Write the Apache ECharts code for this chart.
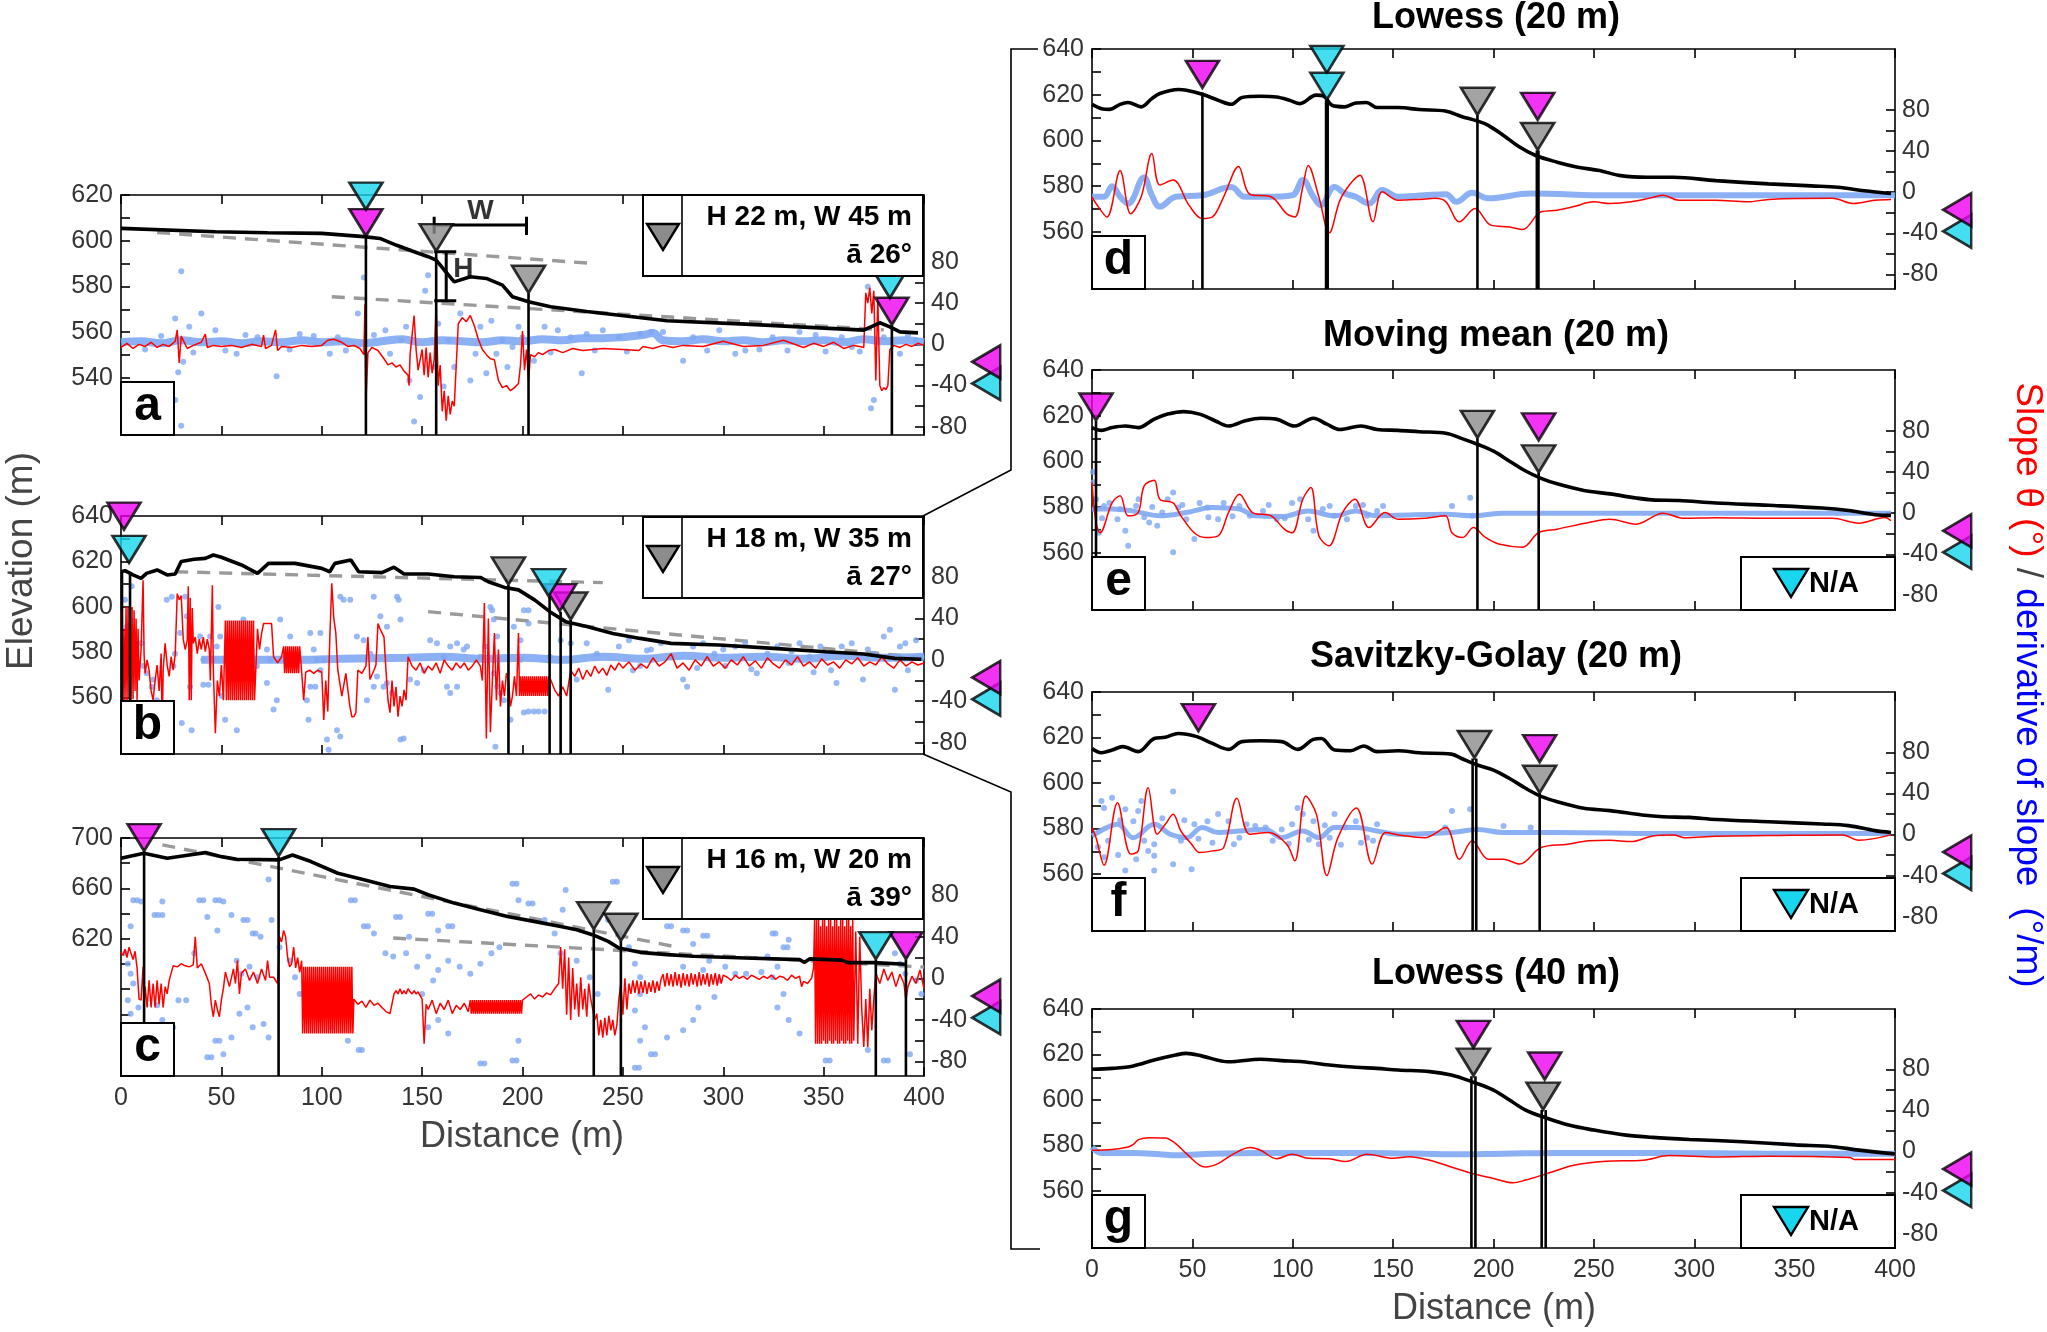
<!DOCTYPE html>
<html><head><meta charset="utf-8">
<script src="https://cdn.jsdelivr.net/npm/echarts@6/dist/echarts.min.js"></script>
<style>html,body{margin:0;padding:0;background:#fff}#c{width:2047px;height:1332px}</style>
</head><body><div id="c"></div>
<script>
// ---------- shared tick values ----------
const distTicks = [0,50,100,150,200,250,300,350,400];
const slopeTicks = [-80,-60,-40,-20,0,20,40,60,80];
const slopeLabels = [-80,-40,0,40,80];
const thresholdMagenta = [[431,-17]];
const thresholdCyan = [[431,-38]];
const elevTicksA = [520,530,540,550,560,570,580,590,600,610,620];
const elevLabelsA = [540,560,580,600,620];
const elevTicks640 = [540,550,560,570,580,590,600,610,620,630,640];
const elevLabels640 = [560,580,600,620,640];
const elevTicksC = [520,540,560,580,600,620,640,660,680,700];
const elevLabelsC = [620,660,700];

// ---------- panel a ----------
const elevA = [[0,605.4],[47,603.9],[73,603.5],[100,603.2],[121,601.8],[129,601],[137,598.1],[145,595.5],[153,593],[157,591.5],[161,587.2],[166,582],[174,584.2],[182,583.5],[190,580.6],[195,575.5],[203,573.3],[214,571.1],[232,569],[258,566.4],[272,565],[311,563.5],[338,562.3],[370,560.9],[378,564.1],[383,562.3],[388,560.1],[397,559.7]];
const dashA = [[[18,603.6],[236,590]],[[105,575.5],[380,561]]];
const redA = [[0,-3],[3,1],[6,-4],[9,0],[12,-2],[15,2],[18,-3],[21,0],[24,-2],[27,3],[28,14],[29,-18],[30,8],[33,-4],[36,-1],[40,2],[42,10],[43,-3],[46,-1],[50,-2],[55,-1],[60,-3],[65,0],[70,-2],[71,9],[72,-4],[75,-1],[77,14],[78,-6],[80,-2],[85,-3],[90,-1],[95,-2],[100,-1],[103,4],[106,5],[110,2],[113,-2],[116,-1],[119,-4],[121,-10],[121.5,39],[122,-57],[123,-8],[125,-3],[128,-6],[131,-14],[133,-20],[135,-18],[137,-22],[139,-20],[141,-26],[143,-30],[143.5,-40],[144,-10],[146,28],[147,-5],[148,-25],[150,-5],[151,-30],[152,-3],[153,-32],[154,-8],[155,-28],[156,-15],[157,40],[158,-40],[159,-20],[160,-65],[161,-45],[162,-74],[163,-50],[164,-68],[165,-55],[166,-60],[167,-20],[168,20],[170,26],[172,22],[174,28],[176,18],[178,5],[180,-5],[182,-10],[184,-14],[186,-15],[188,-35],[190,-42],[192,-40],[194,-45],[196,-42],[198,-38],[199,-20],[200,13],[201,-25],[202,-5],[203,-35],[204,-10],[206,-12],[208,-8],[210,-10],[213,-6],[216,-5],[220,-8],[225,-4],[230,-6],[240,-4],[250,-5],[258,-6],[260,-2],[265,-4],[270,-1],[275,-3],[280,-1],[290,-2],[300,3],[310,-2],[320,-1],[330,4],[340,-3],[345,1],[350,-2],[355,2],[360,-4],[365,-1],[368,-2],[370,-3],[371,50],[372,40],[373,55],[374,30],[375,52],[376,-35],[377,45],[378,-40],[379,-45],[380,-42],[381,-44],[382,-40],[383,-5],[385,-1],[388,-3],[391,0],[394,-2],[397,1],[400,-1]];
const bandA = [[0,2],[10,3],[20,1],[30,4],[40,2],[50,3],[60,1],[70,3],[80,2],[90,4],[100,2],[110,3],[120,1],[130,3],[140,5],[150,2],[160,4],[170,3],[180,2],[190,4],[200,3],[210,5],[220,4],[230,6],[240,6],[250,7],[260,9],[265,11],[270,4],[280,3],[290,5],[300,3],[310,4],[320,2],[330,4],[340,3],[350,4],[360,2],[370,5],[380,3],[390,4],[400,2]];
const dotsA = [[30,71],[27,25],[34,17],[40,30],[31,-17],[28.5,-27],[27,-54],[30,-79],[77.5,-31],[104,-9],[118,30],[121,65],[146,-75],[149,-51],[151.5,52],[153,67],[142,17],[158,20],[163,4],[169,30],[174,-35],[176.6,-9],[179,17],[184.5,23],[190,4],[192.5,-22],[198,17],[200,7],[205.7,-16],[211,17],[229.5,-28],[280,-16],[306,-9],[375,-54],[373.6,-62],[372,56],[388,-9],[68,7],[47,13.6],[57.6,-9],[89,10],[108,7],[131.7,13.6],[134,-9],[139.6,4],[143.6,-35],[155.5,-22],[160.7,-41],[166,-22],[182,-28],[187,-9],[195,-2.6],[217.6,13.6],[224,7],[232,10],[240,13.6],[248,7],[258.6,10],[264,12],[285,7],[298,13.6],[311,-6],[324.6,7],[338,12],[351,-7],[359,7],[364,-2.6],[380,7],[396,4],[12,-5],[20,8],[36,-8],[52,-6],[62,9],[84,-5],[96,8],[112,-6],[126,9],[214,-8],[236,-6],[252,-7],[270,12],[292,-6],[318,-5],[332,-6],[346,9],[368,-7],[392,9]];
const magentaA = [[122,601.8],[384,563]];
const cyanA = [[122,613.4],[383,574.7]];
const greyA = [[157,595.2],[203,577]];
const vlinesA = [[122,601.8],[157,595.2],[203,577],[384,563]];
const wBarA = [[[156,606.9],[202,606.9]],[[156,610.5],[156,603]],[[202,610.5],[202,602.5]]];
const hBarA = [[[162,595.2],[162,573.7]],[[156,595.2],[167,595.2]],[[156,573.7],[167,573.7]]];
const annotA = [{v:[179,612.8],t:'W'},{v:[170.5,587.6],t:'H'}];

// ---------- panel b ----------
const elevB = [[0,615.4],[2,615.9],[6,614],[10,612.5],[12.7,614.7],[18,616.2],[23,614],[27,614.4],[30,619.9],[36.5,620.9],[42,621.3],[46,622.8],[50,621.8],[60,618.4],[68,614.7],[73.5,619.1],[86.7,619.1],[100,616.9],[104,615.4],[106.5,619.1],[114.5,620.6],[118.4,615.4],[130,615],[136,617.4],[141,614.4],[153,614.4],[166,613.2],[179,612.9],[183,611],[191,608.5],[198,607.4],[206,603],[213.6,597.8],[221.5,593.4],[232,591.2],[245,588.2],[258.6,586],[274,583.8],[298,583.1],[325,581.6],[351,580.1],[370,579.1],[385.5,577.2],[398.7,576.8]];
const dashB = [[[27,615.4],[240,610.6]],[[153,597.8],[400,577.5]]];
const redB = [[0,48],[0.5,0],[1,-39],[1.5,30],[2,-39],[2.5,51],[3,-39],[3.5,51],[4,-38],[4.5,45],[5,-39],[5.5,51],[6,-38],[6.5,48],[7,-30],[7.5,40],[8,-39],[8.5,30],[9,-20],[10,10],[11,77],[11.5,5],[12,-13],[13,0],[14,-10],[15,-30],[16,-39],[17,-20],[18,-5],[19,-30],[20,6],[20.5,-71],[21,-10],[22,16],[23,-5],[24,-16],[25,3],[26,-10],[27,5],[28,64],[29,58],[30,62],[31,20],[32,10],[33,19],[33.5,71],[34,-39],[34.5,60],[35,-39],[35.5,50],[36,16],[37,22],[38,6],[39,20],[40,10],[41,22],[42,8],[43,20],[44,10],[44.5,-20],[45.5,72],[46,-10],[47,-71],[48,-20],[49,-35],[50,-5],[51,-39],[52,38],[52.5,-39],[53,38],[53.5,-39],[54,38],[54.5,-39],[55,38],[55.5,-39],[56,38],[56.5,-39],[57,38],[57.5,-39],[58,38],[58.5,-39],[59,38],[59.5,-39],[60,38],[60.5,-39],[61,38],[61.5,-39],[62,38],[62.5,-39],[63,38],[63.5,-39],[64,38],[64.5,-39],[65,38],[65.5,-39],[66,38],[66.5,-39],[67,-39],[68,30],[69,10],[70,25],[71,35],[73,35],[75,35],[76,3],[78,-3],[80,3],[81,13],[81.5,-13],[82,13],[82.5,-13],[83,13],[83.5,-13],[84,13],[84.5,-13],[85,13],[85.5,-13],[86,13],[86.5,-13],[87,13],[87.5,-13],[88,13],[88.5,-13],[89,13],[90,-12],[91,-39],[92,-12],[94,-10],[96,-13],[98,-10],[100,-12],[101,-58],[102,-20],[103,-50],[104,20],[105,74],[106,40],[107,26],[108,-10],[110,-35],[112,-13],[114,-45],[115,-55],[116,-55],[117,-51],[118,-10],[120,-13],[122,-6],[123,22],[124,-19],[126,-10],[127,-5],[128,35],[129,30],[130,26],[131,22],[132,-10],[133,-39],[134,-51],[135,-20],[136,-45],[137,-26],[138,-55],[139,-35],[140,-45],[141,-29],[142,-39],[143,3],[145,-6],[147,-10],[149,-3],[151,-13],[153,-6],[155,-10],[157,-3],[159,-13],[161,0],[163,-6],[165,-10],[167,-3],[169,-8],[171,-3],[173,-10],[175,-6],[177,0],[179,-6],[180,-20],[181,55],[182,-76],[183,40],[184,-70],[185,-20],[186,26],[187,-39],[188,10],[189,-45],[190,-20],[191,-35],[192,-13],[193,-20],[194,-45],[195,-35],[196,-16],[197,-35],[198,26],[198.5,-35],[199,-16],[199.5,-35],[200,-16],[200.5,-35],[201,-16],[201.5,-35],[202,-16],[202.5,-35],[203,-16],[203.5,-35],[204,-16],[204.5,-35],[205,-16],[205.5,-35],[206,-16],[206.5,-35],[207,-16],[207.5,-35],[208,-16],[208.5,-35],[209,-16],[209.5,-35],[210,-16],[210.5,-35],[211,-16],[211.5,-35],[212,-16],[212.5,-35],[213,-16],[214,-19],[216,-29],[218,-35],[220,-26],[222,-35],[224,-10],[226,-16],[228,-8],[230,-19],[232,-10],[234,-16],[236,-6],[238,-13],[240,-8],[242,-15],[244,-5],[246,-10],[248,-3],[250,-8],[253,-2],[256,-10],[259,-4],[262,-8],[265,2],[268,-6],[271,-2],[274,6],[277,-8],[280,-3],[283,-10],[286,0],[289,-6],[292,3],[295,-6],[298,-2],[301,-8],[304,0],[307,-5],[310,3],[313,-6],[316,-1],[319,-8],[322,2],[325,-4],[328,-8],[331,0],[334,-5],[337,3],[340,-6],[343,-2],[346,-8],[349,1],[352,-5],[355,-2],[358,-8],[361,0],[364,-4],[367,2],[370,-6],[373,-2],[376,-5],[379,3],[382,-4],[385,-8],[388,0],[391,-6],[394,-2],[397,-5],[400,-3]];
const bandB = [[40,0],[60,0],[90,0],[110,1],[143,2],[160,3],[180,1],[200,2],[220,0],[240,3],[260,1],[280,4],[300,2],[320,3],[340,1],[360,4],[380,2],[400,3]];
const dotsB = [[2,58],[2.8,32],[4.5,48],[5.3,71],[10.3,16],[11.1,-6],[12.8,-13],[15.3,-26],[16.1,-19],[17.8,-39],[19.5,-58],[22.8,58],[25.3,61],[26.1,-6],[26.9,6],[29.4,26],[31.9,61],[32.8,42],[34.4,-26],[35.2,-68],[30.3,-61],[39.4,22.5],[44.4,22.5],[41,0],[46,0],[41,-24],[43.6,-24],[47.7,13],[48.5,51],[49.4,22.5],[50.2,-35],[51.9,-58],[57.7,-68],[61,39],[64.3,-16],[67.7,-6],[72.7,10],[72.7,-22.5],[74.3,0],[79.3,39],[77.6,-39],[76,-48],[82.6,0],[87.6,0],[84.3,22.5],[94.3,26],[99.3,26],[96,10],[97.6,0],[101,0],[94.3,-26],[96.8,-26],[99.3,-10],[92.6,-39],[93.4,-58],[102.6,-77],[103.4,-87],[107.6,-68],[109.2,-74],[109.2,61],[114.2,58],[110.9,58],[117.5,22.5],[120.9,19],[124.2,6],[125.9,61],[129.2,42],[132.5,32],[137.5,61],[138.3,58],[139.2,-77],[140.8,-76],[122.5,-39],[125.9,-26],[127.5,-16],[130.8,-26],[132.5,-22.5],[135,-32],[139.2,39],[144,-19],[147.5,-22.5],[150.8,-10],[154,19],[157.4,16],[160.8,3],[164,13],[167.4,16],[170.7,10],[172.4,13],[164,-32],[167.4,-26],[162.4,-26],[179,3],[181.5,13],[184,51],[184.9,48],[185.7,39],[187.4,22.5],[185.7,-13],[187.4,-26],[190.7,-39],[186.5,-84],[194,-58],[189,-32],[195.7,32],[200.7,48],[203,35],[199,0],[202.3,-26],[200.7,-51],[199,19],[203,-50],[205.7,-50],[208,-50],[211,-50],[203,48],[213.6,3],[219,19],[224,16],[227,-19],[232,16],[237,6],[242.7,-29],[248,13],[253,19],[258.6,-6],[264,10],[269,16],[274,3],[280,-19],[282,-26],[285,13],[290,16],[295.6,6],[301,-6],[306,13],[311,16],[316.7,-13],[322,6],[327,13],[332.6,-3],[338,16],[343,3],[348.4,13],[353.7,-10],[356.4,-22.5],[359,13],[364,16],[369.6,-19],[375,6],[380,22.5],[383,29],[385.5,-29],[388,13],[390.7,16],[396,19],[398.7,3],[255,-10],[262,9],[287,-8],[300,10],[314,-9],[334,8],[345,-12],[372,10],[392,-10]];
const magentaB = [[1.5,633.8],[218.5,597.8]];
const cyanB = [[4,619.1],[213,604.4]];
const greyB = [[193,609.6],[224,594.1]];
const vlinesB = [[0.5,615.5],[4.5,615],[193,609.6],[213.5,604.4],[219,597.8],[224,594.1]];

// ---------- panel c ----------
const elevC = [[0,683.9],[11.4,687.9],[23,683.9],[34,686.5],[42,688.4],[50,685.2],[57.6,683.1],[78.8,682.6],[85.4,686.5],[94.6,681.3],[108,672],[121,666.8],[134,661.5],[146,659.4],[153,654.9],[166,648.3],[179,643],[192.5,637.7],[205.7,633.8],[219,629.8],[227,627.2],[234.8,623.2],[242.7,617.9],[248,612.7],[258.6,609.2],[272,607.4],[285,606.1],[311,604.7],[338,603.4],[340.5,601.3],[343,604],[359,603],[362,601],[375,601],[390.7,599.7]];
const dashC = [[[20.6,694.5],[275,614]],[[135.6,620.6],[400,597.5]]];
const redC = [[0,25],[1,22],[2,28],[3,20],[4,30],[5,24],[6,18],[7,26],[8,10],[9,-20],[10,-21],[11,11],[11.5,-25],[12,-8],[13,-28],[14,-2],[15,-28],[16,-5],[17,-28],[18,-2],[19,-25],[20,-5],[21,-28],[22,-8],[23,-15],[24,-2],[26,12],[28,11],[30,14],[32,12],[34,11],[36,13],[37,40],[38,10],[40,14],[42,5],[44,-5],[45,-25],[46,-37],[47,-21],[48,-30],[49,-37],[50,-21],[51,-10],[52,6],[54,-8],[56,9],[57,-5],[58,17],[59,-15],[60,5],[62,9],[64,-2],[66,6],[68,-5],[70,9],[72,-2],[73,17],[74,1],[76,1],[78,-5],[79,40],[80,35],[81,46],[82,40],[83,20],[84,11],[85,14],[86,30],[87,10],[88,20],[89,6],[90,17],[90.5,-53],[91,11],[91.5,-53],[92,11],[92.5,-53],[93,11],[93.5,-53],[94,11],[94.5,-53],[95,11],[95.5,-53],[96,11],[96.5,-53],[97,11],[97.5,-53],[98,11],[98.5,-53],[99,11],[99.5,-53],[100,11],[100.5,-53],[101,11],[101.5,-53],[102,11],[102.5,-53],[103,11],[103.5,-53],[104,11],[104.5,-53],[105,11],[105.5,-53],[106,11],[106.5,-53],[107,11],[107.5,-53],[108,11],[108.5,-53],[109,11],[109.5,-53],[110,11],[110.5,-53],[111,11],[111.5,-53],[112,11],[112.5,-53],[113,11],[113.5,-53],[114,11],[114.5,-53],[115,11],[115.5,-53],[116,-20],[118,-25],[120,-22],[122,-28],[124,-21],[126,-26],[128,-24],[130,-28],[132,-32],[134,-34],[136,-15],[137,-12],[138,-15],[139,-10],[140,-15],[141,-12],[142,-15],[143,-10],[144,-13],[145,-15],[146,-12],[147,-15],[148,-13],[150,-20],[151,-63],[152,-25],[153,-30],[155,-21],[157,-34],[159,-24],[161,-30],[163,-21],[165,-34],[167,-26],[169,-30],[171,-24],[173,-32],[174,-21],[174.5,-34],[175,-21],[175.5,-34],[176,-21],[176.5,-34],[177,-21],[177.5,-34],[178,-21],[178.5,-34],[179,-21],[179.5,-34],[180,-21],[180.5,-34],[181,-21],[181.5,-34],[182,-21],[182.5,-34],[183,-21],[183.5,-34],[184,-21],[184.5,-34],[185,-21],[185.5,-34],[186,-21],[186.5,-34],[187,-21],[187.5,-34],[188,-21],[188.5,-34],[189,-21],[189.5,-34],[190,-21],[190.5,-34],[191,-21],[191.5,-34],[192,-21],[192.5,-34],[193,-21],[193.5,-34],[194,-21],[194.5,-34],[195,-21],[195.5,-34],[196,-21],[196.5,-34],[197,-21],[197.5,-34],[198,-21],[198.5,-34],[199,-21],[199.5,-34],[200,-21],[202,-18],[204,-15],[206,-20],[208,-16],[210,-18],[212,-14],[214,-16],[216,-10],[218,-5],[219,30],[220,-10],[221,28],[222,-35],[223,20],[224,-40],[225,10],[226,-30],[227,-5],[228,-37],[229,1],[230,-30],[231,-10],[232,-37],[233,-5],[234,-20],[236,-40],[237,-34],[238,-55],[239,-40],[240,-57],[241,-38],[242,-55],[243,-36],[244,-50],[245,-40],[246,-55],[247,-45],[248,-20],[249,-5],[250,-35],[251,0],[252,-30],[253,-5],[254,-15],[255,-2],[256,-14],[257,-2],[258,-15],[259,-3],[260,-14],[261,-2],[262,-15],[263,-4],[264,-13],[265,-2],[266,-14],[267,-3],[268,-12],[269,-1],[270,4],[271,-8],[272,5],[273,-7],[274,4],[275,-8],[276,6],[277,-7],[278,4],[279,-9],[280,5],[281,-7],[282,4],[283,-8],[284,5],[285,-6],[286,4],[287,-8],[288,6],[289,-7],[290,4],[291,-6],[292,5],[293,-8],[294,4],[295,-6],[296,5],[297,-7],[298,4],[299,-5],[300,3],[302,1],[304,-2],[306,3],[308,0],[310,2],[312,-1],[314,3],[316,1],[318,-1],[320,2],[322,0],[324,3],[326,-1],[328,2],[330,1],[332,-2],[334,3],[336,0],[338,2],[339,-8],[340,-3],[342,-5],[344,0],[345,10],[345.5,56],[346,-63],[346.5,56],[347,-63],[347.5,56],[348,-63],[348.5,50],[349,-63],[349.5,56],[350,-60],[350.5,56],[351,-63],[351.5,50],[352,-63],[352.5,56],[353,-60],[353.5,56],[354,-63],[354.5,50],[355,-63],[355.5,56],[356,-60],[356.5,56],[357,-63],[357.5,50],[358,-63],[358.5,56],[359,-60],[359.5,56],[360,-63],[360.5,50],[361,-63],[361.5,56],[362,-60],[362.5,56],[363,-63],[363.5,50],[364,-63],[364.5,56],[365,-60],[366,45],[367,-63],[368,40],[369,-30],[370,-66],[371,-20],[372,-66],[373,-10],[374,-50],[375,-20],[376,5],[378,-5],[380,9],[382,-2],[384,6],[386,-8],[388,4],[390,-5],[391,-21],[392,-8],[394,2],[396,-5],[398,8],[400,-10]];
const bandC = [];
const dotsC = [[6.1,75],[10,74],[20.6,74],[16.7,61],[20.6,61],[4.8,50],[2.1,24],[3.4,14],[4.8,4.5],[6.1,-5],[3.4,-21],[4.8,-34],[8.7,-28],[18,-26],[20.6,-40],[22,-53],[26,-47],[28.6,-21],[32.5,-21],[36.5,24],[39,75],[47,75],[51,74],[43,59],[48,46],[55,61],[63,56],[65.6,43],[69.5,40],[57.6,17],[60,4.5],[64,11],[68,1],[63,-28],[59,-34],[65.6,-47],[71,-44],[73.5,-57],[47,-60],[51,-73],[43,-76],[55,-57],[73.5,95],[75,56],[79,30],[84,17],[86.7,1],[89,-15],[94.6,-28],[98.6,-40],[102.6,-34],[105,-47],[113,-60],[118.4,-69],[114.5,75],[121,50],[126,43],[131.7,24],[135.6,21],[142,24],[147.5,11],[153,21],[155.5,-2],[158,8],[163,17],[168.7,11],[174,4.5],[179,14],[184.5,24],[188.5,30],[158,46],[163,50],[153,62],[137,59],[143.5,40],[150,-15],[153,-47],[158,-40],[163,-53],[179,-82],[195,-79],[198,-60],[195,91],[198,75],[203,72],[211,56],[216,43],[220,66],[221.5,85],[219,24],[227,17],[233.5,1],[237.4,-15],[245,93],[242.7,56],[248,43],[253,30],[256,14],[258.6,1],[258.6,-15],[256,-31],[261,-47],[258.6,-60],[264,-73],[256,-86],[272,50],[280,46],[290,41],[285,33],[293,17],[301,11],[298,-2],[295.6,-18],[287.6,-28],[285,-40],[280,-50],[272,-57],[324.6,43],[330,30],[322,21],[327,11],[330,-15],[327,-28],[332.6,-40],[338,-53],[332.6,37],[385.5,24],[388,14],[390.7,4.5],[396,-2],[398.7,-15],[351,-79],[372,-69],[380,-79],[393,-73],[280,11],[290,8],[306,4.5],[311.4,4.5],[319,6],[324.6,1],[8,75],[18.5,61],[41,75],[49,75],[61,56],[67,43],[116.5,75],[123,50],[139,59],[155,62],[165,50],[197,91],[205,72],[247,93],[274,50],[282,46],[292,41],[326,43],[332,30],[49,-60],[45,-76],[120,-69],[181,-82],[197,-79],[266,-73],[258,-86],[353,-79],[382,-79]];
const magentaC = [[11.5,689.2],[391,603.4]];
const cyanC = [[78.5,685.2],[376,603.4]];
const greyC = [[235.5,627.2],[249,618]];
const vlinesC = [[11.5,689.2],[78.5,685.2],[235.5,627.2],[249,618],[376,603.4],[391,603.4]];

// ---------- panel d : Lowess (20 m) ----------
const elevD = [[0,615.8],[4.7,613.9],[8.7,613.6],[14,615.8],[17.9,616.6],[24.5,614.7],[29.8,618.3],[33.8,620.5],[43,622.3],[47,622],[54.9,620.2],[62.8,617.6],[69.4,615.8],[74.7,618.8],[83.9,619.3],[91.8,619],[98.4,617.6],[103.6,616.1],[111.6,619.8],[115.6,619.3],[119.5,615.4],[126,614.7],[131.4,616.4],[136.7,616.6],[142,614.4],[152.5,614.4],[163,613.5],[176,612.9],[184,610.5],[192,608.5],[197.4,606.6],[205,602.2],[213,597.1],[221,593.4],[231.7,590.5],[242,588.3],[252.8,586.8],[263.3,584.6],[276.5,583.9],[289.7,583.9],[310.8,582.4],[337,581],[358.3,580.1],[371.5,579.5],[384.7,578],[398,576.8]];
const redD = [[0,-4.5],[2,-11],[7.4,-24],[14,21],[19.3,-21],[24.5,-4.5],[29.8,37.5],[33.8,7],[40.4,11.7],[48.3,-12.6],[54.9,-25.6],[60,-24],[65.6,-4.5],[73,25],[78.6,-2],[89.2,-4.5],[97,-21],[101,-24],[105,5],[107.7,26],[113,-4.5],[118.2,-39.5],[123.5,-8],[128.8,8.4],[133.5,16.5],[140,-28.8],[144.6,0.3],[152.5,-7.8],[163,-7],[171,-6],[176.3,-9.4],[183,-28.8],[190.8,-15.9],[198.7,-32],[208,-33.7],[214.5,-36.2],[223.7,-19],[231.7,-17.5],[239.6,-14.2],[250,-9.4],[258,-11],[268.6,-9.4],[279.2,-5.2],[284.5,-3],[292.3,-7.8],[310.8,-7.8],[326.6,-9.4],[337,-7],[368.9,-6],[379.4,-11],[390,-7.8],[398,-7]];
const bandD = [[0,-4.5],[6,-4.5],[10,5.8],[14,-4.5],[18,-11],[25.9,14.2],[29.8,-3],[33.8,-14],[41.7,-4.5],[55,-3],[69.4,5],[76,-4.5],[86.5,-4.5],[99.7,-3],[105,11.7],[110.3,-4.5],[114,-12.6],[120.8,5],[126,-1.3],[131.4,-4.5],[138,-11],[144.6,2],[152.5,-4.5],[165.7,-3],[176.3,-2],[181.5,-9.4],[189.4,-0.6],[197.4,-6],[218.5,-1.3],[258,-3],[310.8,-3],[400,-3]];
const dotsD = [];
const magentaD = [[55,622.8],[222,608.8]];
const cyanD = [[117,629.3],[117,617.6]];
const greyD = [[192,611],[222,595.6]];
const vlinesD = [[55,621],[116.6,617.6],[117.4,617.6],[192,611],[221.6,595.6],[222.4,595.6]];

// ---------- panel e : Moving mean (20 m) ----------
const elevE = [[0,614.8],[4.7,613.6],[10,614.8],[16.6,615.5],[23,614.8],[31,618.5],[37.7,620.7],[45.6,621.8],[53.6,620.7],[61.5,617.7],[68,615.5],[76,617.7],[84,618.9],[91.8,618.5],[101,615.5],[110.3,618.9],[117,616.3],[123.5,614],[134,615.5],[142,614],[152.5,613.6],[163,613],[176.3,612.3],[184,610.1],[192,607.5],[200,604.5],[208,600.1],[216,595.8],[224,592.5],[231.7,590.2],[245,587.3],[258,585.8],[271,584],[279,583.2],[292.3,582.9],[310.8,581.8],[337,580.8],[363.6,579.6],[376.8,578.5],[390,576.7],[398,576.4]];
const redE = [[0,30],[2,-9],[4,-19],[10,10],[14,17],[18,-2.6],[23,0.6],[26,26.5],[31,32],[33.8,13.6],[40.4,10],[44.3,-2.6],[50.9,-19],[56.5,-23.6],[62.8,-22],[68,0.6],[73.4,18.4],[80,0.6],[89.2,-2.6],[95.8,-15.5],[99.7,-19],[105,13.6],[109,25],[113,-22],[118,-31.7],[124.8,0.6],[131,13.6],[138,-14],[146,0.6],[152.5,-6],[165.7,-5],[176,-2.6],[179.3,-19],[184.7,-23.6],[190,-14],[196,-23.6],[202.6,-30],[214.5,-33],[222.4,-19],[231.7,-15.5],[247.5,-9],[258,-6],[271,-10.7],[284.4,0],[295,-5],[310.8,-4.5],[337,-5],[368.9,-5],[382,-9.7],[395,-4.2],[398,-7.4]];
const bandE = [[0,4],[10,4],[20.6,2],[33.8,-2.6],[47,0.6],[60,5.5],[73.4,4],[81.3,-2.6],[94.5,-3.2],[107.7,2],[120.8,-2.6],[131.4,2],[142,-2.6],[152.5,-2],[176.3,-1],[189.4,-2.6],[205,0],[258,0],[398,0]];
const dotsE = [[0.8,30],[0.5,40],[2,13.6],[3.4,-19],[6,7],[8.7,10],[12.7,-6],[16.6,-17],[18,-31.7],[22,7],[23.2,13.6],[28.5,-9],[32.5,-12.3],[35,0.6],[37.7,13.6],[40.4,20],[40.4,-38],[43,5.5],[47,-6],[51,-25],[53.6,10],[57.5,5.5],[62.8,-6],[65.6,10],[73.4,7],[78.6,-2.6],[85.2,2],[92,-6],[99.7,10],[103.7,13.6],[107.7,-6],[110.3,-17],[118.4,7],[120.8,-2.6],[131.4,7],[137,-2.6],[142,2],[145,7],[179.3,7],[188.4,15],[189.4,-2.6],[5,-5],[14,4],[26,-4],[30,6],[45,8],[58,-4],[70,-3],[88,8],[96,-5],[115,4],[127,-6],[135,8]];
const magentaE = [[2,617.7],[222.5,609]];
const cyanE = [];
const greyE = [[192,610.1],[222.5,595]];
const vlinesE = [[2,617.7],[192,610.1],[222.5,595]];

// ---------- panel f : Savitzky-Golay (20 m) ----------
const elevF = [[0,615.2],[4.7,613.3],[10,614.5],[15.3,616],[23,613.8],[31,619.6],[36.5,620.1],[43,621.8],[52.2,620.4],[60,617.4],[68,614.8],[74.7,618.2],[84,618.6],[94.5,618.2],[102.4,614.8],[110.3,619.2],[114.3,619.6],[120.8,614.5],[128.8,614.2],[135.4,616.3],[142,613.8],[152.5,614.2],[163,613.3],[179,612.7],[184,610.8],[192,607.9],[200,605.7],[208,602],[216,597.7],[224,594],[231.7,591.8],[245,588.9],[258,587.9],[274,586],[284.4,585.2],[297.6,584.9],[310.8,584],[337,583],[363.6,582],[376.8,581.3],[390,579.1],[398,578.3]];
const redF = [[0,6.8],[2,-3],[6,-30],[12.7,31],[19.3,-19],[23,-16],[28,45.6],[32.5,0.3],[36.5,10],[40.4,19.7],[44.3,3.5],[49.6,-9.4],[53.6,-17.5],[60,-15.9],[65.6,-12.6],[72.2,35.3],[78.6,0.3],[88,2],[97,-9.4],[101,-25.6],[106.5,37.5],[111.8,19.7],[117,-40],[122.5,-3],[131.7,26],[139.6,-28.8],[146.2,2],[152.5,-0.3],[165.7,-3],[176.3,6.8],[183,-24],[189.4,-6],[197.4,-24],[205,-24],[213,-28.8],[223.7,-12.6],[236.8,-9.4],[247.4,-6],[258,-5.5],[268.6,-6.8],[279.2,-1.3],[289.7,-0.3],[295,-3],[310.8,-1.6],[337,-1],[374,-0.3],[382,-5.5],[398,-0.3]];
const bandF = [[0,-1.3],[7.4,6.8],[12.7,10],[20.6,-3],[31,10],[39,0.3],[47,-3],[55,6.8],[62.8,2],[73.4,3.5],[86.5,5],[94.5,-3],[105,3.5],[113,-3],[120.8,6.8],[131.4,6.8],[142,3.5],[152.5,0.3],[179,2],[192,5],[205,2],[231.7,2],[284.4,1],[398,1]];
const dotsF = [[4.7,32.7],[6,26],[10,36],[16.6,24.6],[20.6,13],[23,23],[24.6,32.7],[31,-9.4],[31,-20.7],[31,-35],[16.6,-35],[40.4,42],[40.4,-29],[49.6,-33.7],[44.3,-6],[51,10],[57.5,13],[62.8,20],[68,13],[70.7,-9.4],[73.4,-3],[81.3,8.4],[86.5,6.8],[94.5,5],[99.7,10],[102.4,26],[105,20],[110.3,13],[113,-9.4],[118.4,-3],[120.8,20],[126,6.8],[131.4,13],[137,-3],[142,10],[179.3,23],[188.4,24.6],[205,8.4],[218.5,6.8],[176,6.8],[3,-12],[8,-6],[14,14],[26,-6],[35,16],[46,14],[53,-4],[60,-8],[77,10],[90,-6],[98,-9],[108,-5],[116,9],[124,-10],[134,-8],[140,-6],[6,-22],[13,-20],[22,-24],[28,-16]];
const magentaF = [[53,622.6],[223,609]];
const cyanF = [];
const greyF = [[190.5,610.8],[223,595.5]];
const vlinesF = [[189.6,610.8],[191.4,610.8],[223,595.5]];

// ---------- panel g : Lowess (40 m) ----------
const elevG = [[0,613.5],[10,613.9],[20.6,615],[31,617.6],[41.7,619.8],[47,620.5],[54.9,619.3],[68,616.8],[84,617.9],[94.5,617.3],[105,616.8],[118.2,615.4],[131.4,614.4],[142,613.9],[152.5,613.2],[168.3,612.5],[179,611],[189.4,608],[200,604.4],[208,600],[216,595.6],[226.7,592],[237.4,589],[250,586.8],[266,584.6],[279.2,583.6],[297.6,582.7],[324,581.7],[350.4,580.3],[369,579.5],[382,578],[400,576.3]];
const redG = [[0,1.3],[10,2],[18,4.5],[20.6,7],[23.2,11.7],[28.5,13.6],[36.5,13.3],[41.7,7.8],[47,-2],[56.3,-15],[62.8,-11.7],[70.7,-2],[78.8,3.9],[84,1.3],[92,-7],[99.7,-2.6],[107.7,-6.5],[118.2,-7],[126.4,-9.7],[137,-2.6],[150,-6.5],[158,-5],[168.3,-8.4],[179,-15],[189.4,-21.4],[200,-26.2],[209.6,-30.4],[216,-27.8],[226.7,-21.4],[240,-13.3],[256,-9.4],[274.5,-8.4],[287.6,-3.9],[311,-5.2],[337,-4.5],[377.5,-5.8],[380,-7.8],[400,-7.8]];
const bandG = [[0,4.5],[4.7,-1.3],[20.6,-1.3],[33.8,-2.6],[41.7,-3.6],[60.3,-2],[86.5,-1.3],[113,-1.3],[139.4,-1.3],[179,-2.6],[205.3,-2],[231.7,-1.3],[284.4,-1.3],[337,-2],[400,-2]];
const dotsG = [];
const magentaG = [[190,622.7],[225.5,608.8]];
const cyanG = [];
const greyG = [[190,610.5],[224.7,595.6]];
const vlinesG = [[189,610.5],[191,610.5],[224,595.6],[226,595.6]];

// ---------- layout / style ----------
const FONT = 'Liberation Sans, Arial, Helvetica, sans-serif';
const RED = '#ff0000', BLUE = '#7ea7f3', MAG = '#f000f0', CYAN = '#17d6ee', GREY = '#8c8c8c';
const TRI_DOWN = 'path://M0,0L20,0L10,17Z';
const TRI_LEFT = 'path://M0,10L17,0L17,20Z';

const panels = [
  {k:'a', left:121, top:195, h:240, e:[515,620], s:[-88,145], et:elevTicksA, el:elevLabelsA, showX:false, smooth:false, bandW:8,
   elev:elevA, dash:dashA, red:redA, band:bandA, dots:dotsA, mag:magentaA, cyan:cyanA, grey:greyA, vl:vlinesA},
  {k:'b', left:121, top:516, h:238, e:[535,640], s:[-91,139], et:elevTicks640, el:elevLabels640, showX:false, smooth:false, bandW:8,
   elev:elevB, dash:dashB, red:redB, band:bandB, dots:dotsB, mag:magentaB, cyan:cyanB, grey:greyB, vl:vlinesB},
  {k:'c', left:121, top:838, h:238, e:[511,700], s:[-94,135], et:elevTicksC, el:elevLabelsC, showX:true, smooth:false, bandW:6,
   elev:elevC, dash:dashC, red:redC, band:bandC, dots:dotsC, mag:magentaC, cyan:cyanC, grey:greyC, vl:vlinesC},
  {k:'d', left:1092, top:49, h:240, e:[535,640], s:[-94,139], et:elevTicks640, el:elevLabels640, showX:false, smooth:true, bandW:6,
   elev:elevD, dash:[], red:redD, band:bandD, dots:dotsD, mag:magentaD, cyan:cyanD, grey:greyD, vl:vlinesD},
  {k:'e', left:1092, top:370, h:240, e:[535,640], s:[-94,139], et:elevTicks640, el:elevLabels640, showX:false, smooth:true, bandW:5,
   elev:elevE, dash:[], red:redE, band:bandE, dots:dotsE, mag:magentaE, cyan:cyanE, grey:greyE, vl:vlinesE, na:true},
  {k:'f', left:1092, top:692, h:239, e:[535,640], s:[-94,139], et:elevTicks640, el:elevLabels640, showX:false, smooth:true, bandW:5,
   elev:elevF, dash:[], red:redF, band:bandF, dots:dotsF, mag:magentaF, cyan:cyanF, grey:greyF, vl:vlinesF, na:true},
  {k:'g', left:1092, top:1009, h:239, e:[535,640], s:[-94,139], et:elevTicks640, el:elevLabels640, showX:true, smooth:true, bandW:6,
   elev:elevG, dash:[], red:redG, band:bandG, dots:dotsG, mag:magentaG, cyan:cyanG, grey:greyG, vl:vlinesG, na:true}
];
const W = 803;

const grids=[], xAxes=[], yAxes=[], series=[], graphics=[];
const axLine = {show:true, onZero:false, lineStyle:{color:'#000', width:1.6}};
const tickStyle = {color:'#000', width:1.6};
const labStyle = {color:'#333', fontSize:25, fontFamily:FONT};

panels.forEach((p,i)=>{
  grids.push({left:p.left, top:p.top, width:W, height:p.h});
  xAxes.push({type:'value', gridIndex:i, min:0, max:400, position:'bottom', axisLine:axLine,
    axisTick:{show:true, inside:true, length:9, customValues:distTicks, lineStyle:tickStyle},
    axisLabel:{show:p.showX, customValues:distTicks, margin:10, ...labStyle}, splitLine:{show:false}});
  xAxes.push({type:'value', gridIndex:i, min:0, max:400, position:'top', axisLine:axLine,
    axisTick:{show:true, inside:true, length:9, customValues:distTicks, lineStyle:tickStyle},
    axisLabel:{show:false}, splitLine:{show:false}});
  yAxes.push({type:'value', gridIndex:i, min:p.e[0], max:p.e[1], position:'left', axisLine:axLine,
    axisTick:{show:true, inside:true, length:9, customValues:p.et, lineStyle:tickStyle},
    axisLabel:{customValues:p.el, margin:8, ...labStyle}, splitLine:{show:false}});
  yAxes.push({type:'value', gridIndex:i, min:p.s[0], max:p.s[1], position:'right', axisLine:axLine,
    axisTick:{show:true, inside:true, length:9, customValues:slopeTicks, lineStyle:tickStyle},
    axisLabel:{customValues:slopeLabels, margin:7, ...labStyle}, splitLine:{show:false}});
  const xi=2*i, yl=2*i, yr=2*i+1;
  p.dash.forEach(seg=>series.push({type:'line', xAxisIndex:xi, yAxisIndex:yl, data:seg, showSymbol:false, silent:true,
    lineStyle:{color:'#9a9a9a', width:3.4, type:[13,9]}, z:2}));
  if (p.band.length) series.push({type:'line', xAxisIndex:xi, yAxisIndex:yr, data:p.band, showSymbol:false, smooth:0.4, silent:true,
    lineStyle:{color:BLUE, width:p.bandW, opacity:0.9}, z:3});
  if (p.dots.length) series.push({type:'scatter', xAxisIndex:xi, yAxisIndex:yr, data:p.dots, symbolSize:6, silent:true,
    itemStyle:{color:BLUE}, z:3});
  series.push({type:'line', xAxisIndex:xi, yAxisIndex:yr, data:p.red, showSymbol:false, smooth:p.smooth?0.35:false, silent:true,
    lineStyle:{color:RED, width:1.5}, z:4});
  series.push({type:'line', xAxisIndex:xi, yAxisIndex:yl, data:p.elev, showSymbol:false, smooth:p.smooth?0.35:false, silent:true,
    lineStyle:{color:'#000', width:3.6}, z:5});
  p.vl.forEach(v=>series.push({type:'line', xAxisIndex:xi, yAxisIndex:yl, data:[[v[0],v[1]],[v[0],p.e[0]]], showSymbol:false, silent:true,
    lineStyle:{color:'#000', width:2.6}, z:6}));
  [[p.grey,GREY],[p.mag,MAG],[p.cyan,CYAN]].forEach(([d,c])=>{ if(d.length) series.push({type:'scatter', xAxisIndex:xi, yAxisIndex:yl, data:d,
    symbol:TRI_DOWN, symbolSize:[33,27], symbolOffset:[0,-14], clip:false, silent:true,
    itemStyle:{color:c, borderColor:'#000', borderWidth:2.6}, z:8}); });
  series.push({type:'scatter', xAxisIndex:xi, yAxisIndex:yr, data:thresholdCyan, symbol:TRI_LEFT, symbolSize:[28,33], clip:false, silent:true,
    itemStyle:{color:CYAN, borderColor:'#000', borderWidth:2.6}, z:8});
  series.push({type:'scatter', xAxisIndex:xi, yAxisIndex:yr, data:thresholdMagenta, symbol:TRI_LEFT, symbolSize:[28,33], clip:false, silent:true,
    itemStyle:{color:MAG, borderColor:'#000', borderWidth:2.6}, z:9});
  if (p.k==='a') {
    wBarA.concat(hBarA).forEach(seg=>series.push({type:'line', xAxisIndex:xi, yAxisIndex:yl, data:seg, showSymbol:false, silent:true,
      lineStyle:{color:'#000', width:3}, z:7}));
    series.push({type:'scatter', xAxisIndex:xi, yAxisIndex:yl, data:annotA.map(a=>({value:a.v, label:{formatter:a.t}})), symbolSize:0, silent:true,
      label:{show:true, position:'inside', color:'#000', fontSize:28, fontWeight:'bold', fontFamily:FONT}, z:7});
  }
  // panel letter box
  const bottom = p.top + p.h;
  graphics.push({type:'rect', z:100, shape:{x:p.left, y:bottom-53, width:53, height:53}, style:{fill:'#fff', stroke:'#000', lineWidth:2}});
  graphics.push({type:'text', z:101, x:p.left+26.5, y:bottom-28, style:{text:p.k, font:'bold 48px '+FONT, fill:'#000', align:'center', verticalAlign:'middle'}});
  if (p.na) {
    graphics.push({type:'rect', z:100, shape:{x:1741, y:bottom-53, width:W-(1741-p.left), height:53}, style:{fill:'#fff', stroke:'#000', lineWidth:2}});
    graphics.push({type:'polygon', z:101, shape:{points:[[1774,bottom-41],[1808,bottom-41],[1791,bottom-13]]}, style:{fill:CYAN, stroke:'#000', lineWidth:2.4}});
    graphics.push({type:'text', z:101, x:1809, y:bottom-26, style:{text:'N/A', font:'bold 29px '+FONT, fill:'#000', align:'left', verticalAlign:'middle'}});
  }
});

// H/W legend boxes on a, b, c
const hwBoxes = [{top:195, t1:'H 22 m, W 45 m', t2:'ā 26°'},{top:517, t1:'H 18 m, W 35 m', t2:'ā 27°'},{top:838, t1:'H 16 m, W 20 m', t2:'ā 39°'}];
hwBoxes.forEach(b=>{
  graphics.push({type:'rect', z:100, shape:{x:643, y:b.top, width:280, height:81}, style:{fill:'#fff', stroke:'#000', lineWidth:2}});
  graphics.push({type:'line', z:101, shape:{x1:682, y1:b.top, x2:682, y2:b.top+81}, style:{stroke:'#000', lineWidth:1.6}});
  graphics.push({type:'polygon', z:101, shape:{points:[[647,b.top+29],[679,b.top+29],[663,b.top+55]]}, style:{fill:GREY, stroke:'#000', lineWidth:2.4}});
  graphics.push({type:'text', z:101, x:912, y:b.top+22, style:{text:b.t1, font:'bold 28px '+FONT, fill:'#000', align:'right', verticalAlign:'middle'}});
  graphics.push({type:'text', z:101, x:912, y:b.top+60, style:{text:b.t2, font:'bold 28px '+FONT, fill:'#000', align:'right', verticalAlign:'middle'}});
});

// titles of the right column
const titles = [{y:18, t:'Lowess (20 m)'},{y:336, t:'Moving mean (20 m)'},{y:657, t:'Savitzky-Golay (20 m)'},{y:974, t:'Lowess (40 m)'}];
titles.forEach(t=>graphics.push({type:'text', z:101, x:1496, y:t.y, style:{text:t.t, font:'bold 36px '+FONT, fill:'#000', align:'center', verticalAlign:'middle'}}));

// axis titles
graphics.push({type:'text', z:101, x:522, y:1137, style:{text:'Distance (m)', font:'36px '+FONT, fill:'#444', align:'center', verticalAlign:'middle'}});
graphics.push({type:'text', z:101, x:1494, y:1309, style:{text:'Distance (m)', font:'36px '+FONT, fill:'#444', align:'center', verticalAlign:'middle'}});
graphics.push({type:'text', z:101, x:22, y:561, rotation:Math.PI/2, style:{text:'Elevation (m)', font:'37px '+FONT, fill:'#444', align:'center', verticalAlign:'middle'}});
graphics.push({type:'text', z:101, x:2027, y:685, rotation:-Math.PI/2, style:{
  text:'{r|Slope θ (°)}{g| / }{b|derivative of slope  (°/m)}', font:'37px '+FONT, align:'center', verticalAlign:'middle',
  rich:{r:{fill:'#ff0000', font:'37px '+FONT}, g:{fill:'#444', font:'37px '+FONT}, b:{fill:'#0000ff', font:'37px '+FONT}}}});

// zoom brackets linking panel b to the right column
graphics.push({type:'polyline', z:101, shape:{points:[[923,516],[1011,470],[1011,49],[1038,49]]}, style:{stroke:'#000', lineWidth:1.6, fill:null}});
graphics.push({type:'polyline', z:101, shape:{points:[[923,754],[1011,792],[1011,1249],[1040,1249]]}, style:{stroke:'#000', lineWidth:1.6, fill:null}});

const chart = echarts.init(document.getElementById('c'), null, {renderer:'canvas'});
chart.setOption({animation:false, backgroundColor:'#fff', grid:grids, xAxis:xAxes, yAxis:yAxes, series:series, graphic:graphics});
</script></body></html>
